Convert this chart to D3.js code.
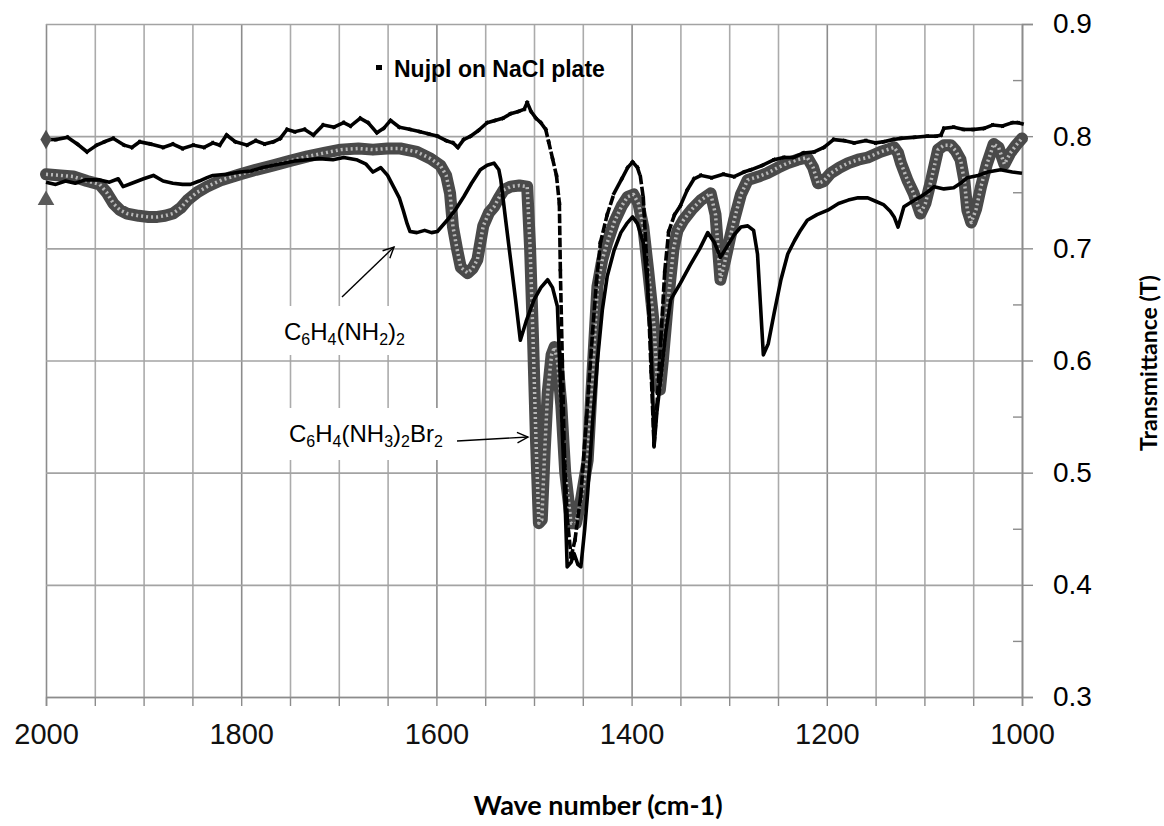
<!DOCTYPE html>
<html>
<head>
<meta charset="utf-8">
<script src="https://cdn.jsdelivr.net/npm/d3@7"></script>
<style>
  body { margin: 0; background: #fff; }
  svg { display: block; }
</style>
</head>
<body>
<div id="chart"></div>
<script>
// IR spectra, 2000-1000 cm-1
var xTicks = [2000,1950,1900,1850,1800,1750,1700,1650,1600,1550,1500,1450,1400,1350,1300,1250,1200,1150,1100,1050,1000];
var xLabels = [2000,1800,1600,1400,1200,1000];
var yTicks = [0.3,0.4,0.5,0.6,0.7,0.8,0.9];
var yMinor = [0.35,0.45,0.55,0.65,0.75,0.85];

// Nujol on NaCl plate
var nujolWn = [2000,1990,1978,1968,1958,1948,1940,1931,1920,1912,1904,1893,1880,1870,1860,1849,1838,1829,1822,1815,1806,1794,1785,1776,1767,1760,1753,1745,1735,1726,1716,1705,1695,1688,1678,1670,1661,1654,1647,1638,1627,1617,1608,1599,1590,1583,1578,1572,1565,1557,1548,1540,1532,1524,1516,1510,1507,1503,1498,1493,1488,1485,1481,1477,1474,1473,1471,1469,1466,1462,1458,1452,1446,1440,1436,1432,1425,1418,1410,1404,1399,1394,1391,1388,1384,1380,1377,1374,1370,1366,1362,1356,1350,1343,1336,1329,1318,1306,1295,1285,1278,1266,1254,1244,1234,1224,1213,1203,1193,1182,1172,1160,1150,1142,1132,1124,1110,1097,1088,1083,1080,1070,1060,1050,1039,1030,1020,1010,1004,1000];
var nujolT = [0.797,0.797,0.799,0.793,0.786,0.792,0.795,0.798,0.792,0.790,0.795,0.793,0.790,0.793,0.789,0.792,0.790,0.794,0.792,0.801,0.795,0.792,0.796,0.793,0.795,0.798,0.806,0.804,0.806,0.801,0.810,0.808,0.812,0.809,0.816,0.812,0.803,0.807,0.814,0.808,0.806,0.804,0.802,0.800,0.796,0.794,0.790,0.797,0.800,0.805,0.812,0.814,0.816,0.820,0.822,0.824,0.830,0.822,0.816,0.812,0.806,0.795,0.780,0.765,0.740,0.680,0.600,0.520,0.460,0.425,0.440,0.480,0.550,0.625,0.670,0.705,0.730,0.749,0.762,0.772,0.777,0.772,0.764,0.745,0.680,0.590,0.525,0.560,0.620,0.680,0.715,0.730,0.738,0.752,0.762,0.765,0.763,0.766,0.764,0.768,0.770,0.774,0.779,0.781,0.781,0.785,0.786,0.790,0.797,0.796,0.794,0.796,0.794,0.795,0.797,0.798,0.799,0.800,0.800,0.801,0.807,0.808,0.806,0.806,0.807,0.810,0.809,0.812,0.812,0.811];

// C6H4(NH2)2
var amineWn = [2000,1990,1980,1970,1960,1945,1935,1926,1921,1912,1900,1890,1880,1870,1860,1852,1843,1835,1829,1815,1801,1790,1778,1767,1755,1744,1732,1720,1706,1695,1682,1672,1665,1657,1650,1644,1638,1634,1630,1627,1620,1612,1605,1599,1589,1580,1572,1564,1555,1548,1541,1536,1534,1529,1524,1519,1514,1508,1500,1493,1486,1481,1476,1472,1468,1466,1462,1459,1455,1452,1448,1445,1440,1435,1430,1425,1418,1411,1405,1399,1394,1388,1384,1381,1378,1377,1374,1370,1365,1360,1350,1340,1330,1322,1315,1309,1302,1295,1288,1281,1275,1271,1268,1265,1260,1254,1247,1240,1233,1227,1220,1210,1199,1188,1178,1168,1158,1150,1142,1135,1131,1127,1124,1121,1112,1104,1097,1090,1080,1070,1063,1056,1045,1035,1022,1010,1000];
var amineT = [0.759,0.757,0.760,0.758,0.761,0.761,0.759,0.762,0.755,0.758,0.762,0.765,0.760,0.758,0.757,0.757,0.760,0.763,0.765,0.766,0.768,0.769,0.772,0.774,0.776,0.778,0.779,0.780,0.779,0.781,0.779,0.775,0.768,0.772,0.765,0.755,0.745,0.734,0.722,0.715,0.714,0.716,0.714,0.715,0.725,0.735,0.746,0.758,0.770,0.774,0.776,0.770,0.761,0.725,0.690,0.655,0.618,0.635,0.654,0.665,0.672,0.665,0.648,0.560,0.470,0.416,0.420,0.428,0.418,0.416,0.450,0.482,0.545,0.600,0.645,0.675,0.698,0.714,0.722,0.728,0.722,0.705,0.670,0.630,0.560,0.523,0.555,0.585,0.625,0.654,0.669,0.685,0.700,0.714,0.705,0.692,0.702,0.712,0.719,0.720,0.716,0.695,0.650,0.605,0.615,0.642,0.672,0.695,0.707,0.716,0.725,0.730,0.734,0.740,0.743,0.745,0.745,0.742,0.739,0.733,0.728,0.719,0.728,0.737,0.742,0.746,0.750,0.755,0.753,0.754,0.758,0.763,0.765,0.768,0.770,0.768,0.767];

// C6H4(NH3)2Br2
var saltWn = [2000,1985,1972,1958,1945,1938,1931,1924,1917,1905,1895,1886,1878,1870,1862,1855,1845,1835,1820,1801,1785,1767,1750,1732,1715,1698,1680,1665,1650,1637,1620,1606,1596,1590,1586,1583,1579,1575,1568,1563,1558,1552,1546,1541,1536,1531,1524,1515,1507,1504,1501,1498,1495,1492,1489,1486,1482,1479,1476,1472,1468,1462,1457,1452,1445,1440,1435,1430,1425,1418,1410,1404,1398,1393,1388,1383,1377,1374,1371,1368,1363,1357,1353,1347,1338,1329,1319,1314,1309,1304,1299,1295,1288,1281,1270,1261,1250,1240,1230,1220,1214,1209,1203,1196,1187,1178,1168,1158,1145,1131,1127,1124,1117,1111,1104,1099,1093,1086,1080,1073,1068,1063,1059,1056,1052,1047,1042,1036,1029,1024,1018,1012,1006,1000];
var saltT = [0.766,0.765,0.764,0.760,0.757,0.750,0.740,0.734,0.731,0.729,0.728,0.728,0.729,0.731,0.736,0.743,0.750,0.755,0.761,0.766,0.770,0.774,0.778,0.782,0.785,0.788,0.789,0.788,0.789,0.789,0.786,0.780,0.774,0.765,0.749,0.719,0.700,0.683,0.678,0.682,0.690,0.720,0.732,0.737,0.745,0.752,0.755,0.756,0.755,0.700,0.620,0.530,0.455,0.458,0.520,0.571,0.605,0.612,0.600,0.560,0.500,0.455,0.455,0.475,0.511,0.590,0.666,0.690,0.705,0.723,0.738,0.746,0.748,0.740,0.719,0.680,0.630,0.585,0.574,0.600,0.650,0.700,0.716,0.725,0.735,0.743,0.749,0.730,0.672,0.690,0.710,0.725,0.748,0.761,0.764,0.767,0.772,0.776,0.779,0.781,0.772,0.758,0.760,0.767,0.772,0.776,0.779,0.781,0.786,0.790,0.785,0.776,0.760,0.749,0.731,0.740,0.761,0.788,0.792,0.792,0.787,0.779,0.760,0.734,0.723,0.735,0.755,0.775,0.793,0.790,0.775,0.785,0.792,0.798];

// single markers shown on the left edge
var startWn = 2000;
var startDiamond = 0.797;
var startTriangle = 0.743;

var width = 1164, height = 826;
var svg = d3.select("#chart").append("svg")
    .attr("width", width)
    .attr("height", height);

var x = d3.scaleLinear().domain([2000, 1000]).range([46, 1022]);
var y = d3.scaleLinear().domain([0.3, 0.9]).range([697, 24]);

// gridlines
svg.append("g")
    .attr("transform", "translate(0,24)")
    .call(d3.axisBottom(x).tickValues(xTicks).tickSize(673).tickFormat(""))
    .call(function(g) {
        g.select(".domain").remove();
        g.selectAll("line")
          .attr("stroke", function(d) { return d % 200 == 0 ? "#8c8c8c" : "#ababab"; })
          .attr("stroke-width", 1.6);
    });
svg.append("g")
    .attr("transform", "translate(46,0)")
    .call(d3.axisRight(y).tickValues(yTicks).tickSize(976).tickFormat(""))
    .call(function(g) {
        g.select(".domain").remove();
        g.selectAll("line").attr("stroke", "#a3a3a3").attr("stroke-width", 1.6);
    });

// bottom axis
svg.append("g")
    .attr("transform", "translate(0,697)")
    .call(d3.axisBottom(x).tickValues(xTicks).tickSize(9).tickPadding(17)
        .tickFormat(function(d) { return xLabels.indexOf(d) >= 0 ? d : ""; }))
    .call(function(g) {
        g.select(".domain").attr("stroke", "#8c8c8c").attr("stroke-width", 1.6);
        g.selectAll("line").attr("stroke", "#8c8c8c").attr("stroke-width", 1.4);
        g.selectAll("text")
          .attr("font-family", "'Liberation Sans', Arial, sans-serif")
          .attr("font-size", 29)
          .attr("fill", "#111");
    });

// right axis
svg.append("g")
    .attr("transform", "translate(1022,0)")
    .call(d3.axisRight(y).tickValues(yTicks).tickSize(11).tickPadding(20).tickFormat(d3.format(".1f")))
    .call(function(g) {
        g.select(".domain").attr("stroke", "#8c8c8c").attr("stroke-width", 1.6);
        g.selectAll("line").attr("stroke", "#8c8c8c").attr("stroke-width", 1.4);
        g.selectAll("text")
          .attr("font-family", "'Liberation Sans', Arial, sans-serif")
          .attr("font-size", 28)
          .attr("fill", "#000");
    });
svg.append("g")
    .attr("transform", "translate(1022,0)")
    .call(d3.axisLeft(y).tickValues(yMinor).tickSize(9).tickFormat(""))
    .call(function(g) {
        g.select(".domain").remove();
        g.selectAll("line").attr("stroke", "#8c8c8c").attr("stroke-width", 1.4);
    });

// axis titles
svg.append("text")
    .attr("x", 598).attr("y", 815)
    .attr("text-anchor", "middle")
    .attr("font-family", "Lato, 'Open Sans', sans-serif")
    .attr("font-weight", "bold")
    .attr("font-size", 27)
    .text("Wave number (cm-1)");
svg.append("text")
    .attr("transform", "translate(1157,363) rotate(-90)")
    .attr("text-anchor", "middle")
    .attr("font-family", "Lato, 'Open Sans', sans-serif")
    .attr("font-weight", "bold")
    .attr("font-size", 23)
    .text("Transmittance (T)");

var line = d3.line()
    .x(function(d) { return x(d[0]); })
    .y(function(d) { return y(d[1]); });

var salt = d3.zip(saltWn, saltT);
var amine = d3.zip(amineWn, amineT);
var nujol = d3.zip(nujolWn, nujolT);

// C6H4(NH3)2Br2: chain of open gray circles
svg.append("path").datum(salt)
    .attr("d", line)
    .attr("fill", "none")
    .attr("stroke", "#4a4a4a")
    .attr("stroke-width", 12)
    .attr("stroke-linejoin", "round")
    .attr("stroke-linecap", "round");
svg.append("path").datum(salt)
    .attr("d", line)
    .attr("fill", "none")
    .attr("stroke", "#b8b8b8")
    .attr("stroke-width", 3.5)
    .attr("stroke-dasharray", "2,3")
    .attr("stroke-linejoin", "round");

// C6H4(NH2)2: solid black
svg.append("path").datum(amine)
    .attr("d", line)
    .attr("fill", "none")
    .attr("stroke", "#000")
    .attr("stroke-width", 3.6)
    .attr("stroke-linejoin", "round");

// Nujol: dash markers, spaced out where the curve is steep
var pairs = d3.pairs(nujol);
svg.append("g").selectAll("line")
    .data(pairs)
    .join("line")
    .attr("x1", function(p) { return x(p[0][0]); })
    .attr("y1", function(p) { return y(p[0][1]); })
    .attr("x2", function(p) { return x(p[1][0]); })
    .attr("y2", function(p) { return y(p[1][1]); })
    .attr("stroke", "#000")
    .attr("stroke-width", 3.6)
    .attr("stroke-linecap", "square")
    .attr("stroke-dasharray", function(p) {
        var dx = Math.abs(x(p[1][0]) - x(p[0][0])), dy = Math.abs(y(p[1][1]) - y(p[0][1]));
        return dy > 2.5 * dx && dy > 8 ? "6,6" : null;
    });

// edge markers
svg.append("path")
    .attr("d", d3.symbol(d3.symbolDiamond, 110))
    .attr("transform", "translate(" + x(startWn) + "," + y(startDiamond) + ")")
    .attr("fill", "#4d4d4d");
svg.append("path")
    .attr("d", d3.symbol(d3.symbolTriangle, 120))
    .attr("transform", "translate(" + x(startWn) + "," + y(startTriangle) + ")")
    .attr("fill", "#5a5a5a");

// legend entry
svg.append("rect")
    .attr("x", 376).attr("y", 65).attr("width", 6).attr("height", 5)
    .attr("fill", "#000");
svg.append("text")
    .attr("x", 394).attr("y", 77)
    .attr("font-family", "'Liberation Sans', Arial, sans-serif")
    .attr("font-weight", "bold")
    .attr("font-size", 23)
    .text("Nujpl on NaCl plate");

// annotations with subscripts
function formula(tx, ty, parts) {
    var t = svg.append("text")
        .attr("x", tx).attr("y", ty)
        .attr("font-family", "'Liberation Sans', Arial, sans-serif")
        .attr("font-size", 24);
    var prevSub = false;
    parts.forEach(function(p) {
        var sub = p[1] == 1;
        var dy = sub && !prevSub ? 5 : (!sub && prevSub ? -5 : 0);
        t.append("tspan")
          .attr("font-size", sub ? 16 : 24)
          .attr("dy", dy)
          .text(p[0]);
        prevSub = sub;
    });
    return t;
}
svg.append("rect").attr("x", 280).attr("y", 306).attr("width", 132).attr("height", 49).attr("fill", "#fff");
svg.append("rect").attr("x", 285).attr("y", 408).attr("width", 165).attr("height", 52).attr("fill", "#fff");
formula(284, 340, [["C",0],["6",1],["H",0],["4",1],["(NH",0],["2",1],[")",0],["2",1]]);
formula(289, 442, [["C",0],["6",1],["H",0],["4",1],["(NH",0],["3",1],[")",0],["2",1],["Br",0],["2",1]]);

function arrow(x1, y1, x2, y2) {
    var a = Math.atan2(y2 - y1, x2 - x1), L = 12, w = 0.45;
    svg.append("line").attr("x1", x1).attr("y1", y1).attr("x2", x2).attr("y2", y2)
        .attr("stroke", "#000").attr("stroke-width", 1.4);
    svg.append("path")
        .attr("d", "M" + (x2 - L * Math.cos(a - w)) + "," + (y2 - L * Math.sin(a - w)) +
                   "L" + x2 + "," + y2 +
                   "L" + (x2 - L * Math.cos(a + w)) + "," + (y2 - L * Math.sin(a + w)))
        .attr("fill", "none").attr("stroke", "#000").attr("stroke-width", 1.4);
}
arrow(342, 297, 394, 247);
arrow(457, 441, 528, 437);
</script>
</body>
</html>
